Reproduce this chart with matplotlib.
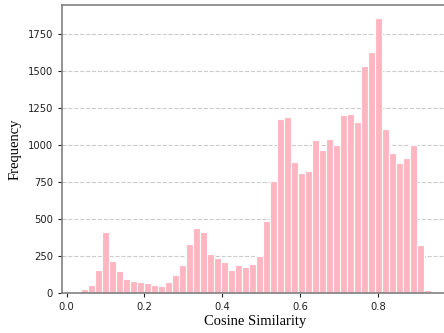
import numpy as np
import matplotlib
matplotlib.use("Agg")
import matplotlib.pyplot as plt

# =========================
# DATA
# =========================
bin_start = 0.036
bin_end = 0.936
counts = [29, 54, 155, 410, 218, 149, 92, 81, 76, 65,
          54, 50, 76, 124, 187, 329, 439, 414, 266, 234,
          212, 155, 187, 178, 194, 250, 489, 757, 1176, 1189,
          883, 811, 824, 1032, 966, 1041, 998, 1200, 1209, 1153,
          1534, 1628, 1853, 1110, 946, 878, 912, 1000, 324, 18]

edges = np.linspace(bin_start, bin_end, len(counts) + 1)
centers = (edges[:-1] + edges[1:]) / 2

# =========================
# PLOTTING
# =========================
fig = plt.figure(figsize=(4.44, 3.33), dpi=100)
ax = fig.add_axes([0.1396, 0.120, 0.872, 0.866])

ax.hist(centers, bins=edges, weights=counts, color="lightpink",
        edgecolor="white", linewidth=0.8)

ax.set_axisbelow(True)
ax.yaxis.grid(True, linestyle="--", color="#cccccc", linewidth=0.8)

ax.set_xlim(-0.012, 0.983)
ax.set_xticks([0.0, 0.2, 0.4, 0.6, 0.8])
ax.set_yticks([0, 250, 500, 750, 1000, 1250, 1500, 1750])

for s in ax.spines.values():
    s.set_color("#808080")
    s.set_linewidth(1.2)

ax.tick_params(labelsize=7.2, colors="#222222", length=3, width=0.8)

ax.set_xlabel("Cosine Similarity", family="Liberation Serif", fontsize=10.5, labelpad=2)
ax.set_ylabel("Frequency", family="Liberation Serif", fontsize=10.5, labelpad=4)

plt.savefig("out.png", dpi=100)
